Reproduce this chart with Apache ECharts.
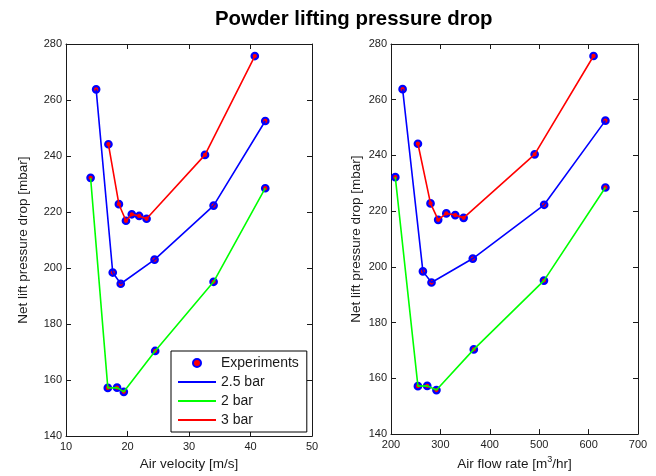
<!DOCTYPE html>
<html>
<head>
<meta charset="utf-8">
<script src="https://cdn.jsdelivr.net/npm/echarts@6/dist/echarts.min.js"></script>
<style>
	html, body { margin: 0; padding: 0; background: #fff; }
	#chart { width: 656px; height: 476px; }
</style>
</head>
<body>
<div id="chart"></div>
<script>
// values
var drop25 = [263.8, 198.4, 194.4, 203.0, 222.3, 252.5];
var drop2 = [232.2, 157.2, 157.3, 155.8, 170.4, 195.1, 228.5];
var drop3 = [244.2, 222.8, 216.9, 219.2, 218.6, 217.6, 240.4, 275.7];

// left plot: air velocity [m/s]
var velocity25 = [14.9, 17.6, 18.9, 24.4, 34.0, 42.4];
var velocity2 = [14.0, 16.8, 18.3, 19.4, 24.5, 34.0, 42.4];
var velocity3 = [16.9, 18.6, 19.75, 20.7, 21.9, 23.1, 32.6, 40.7];

// right plot: air flow rate [m3/hr]
var flow25 = [223.5, 264.6, 282, 365.6, 510, 634];
var flow2 = [208.7, 254.5, 273.3, 292, 367.6, 509.6, 634];
var flow3 = [254.5, 280, 295.5, 312, 330, 347, 490.8, 610];

var FONT = "'Liberation Sans', Arial, sans-serif";
var INK = "#1a1a1a";

function zip(xs, ys) {
	return xs.map(function (x, i) { return [x, ys[i]]; });
}

// 盒子坐标轴: 底/左带刻度标签, 顶/右只画刻度
function boxAxes(grid, min, max, interval, name, nameRich, yGap) {
	var tick = { show: true, inside: true, length: 5, lineStyle: { color: INK } };
	var line = { show: true, lineStyle: { color: INK, width: 1 } };
	var label = { color: "#222", fontSize: 11, fontFamily: FONT };
	return {
		x: [
			{
				gridIndex: grid, type: "value", position: "bottom",
				min: min, max: max, interval: interval,
				axisLine: line, axisTick: tick, splitLine: { show: false },
				axisLabel: Object.assign({ margin: 5 }, label),
				name: name, nameLocation: "middle", nameGap: 20,
				nameTextStyle: { color: INK, fontSize: 13.5, fontFamily: FONT, rich: nameRich },
			},
			{
				gridIndex: grid, type: "value", position: "top",
				min: min, max: max, interval: interval,
				axisLine: line, axisTick: tick, axisLabel: { show: false }, splitLine: { show: false },
			},
		],
		y: [
			{
				gridIndex: grid, type: "value", position: "left",
				min: 140, max: 280, interval: 20,
				axisLine: line, axisTick: tick, splitLine: { show: false },
				axisLabel: Object.assign({ margin: 4 }, label),
				name: "Net lift pressure drop [mbar]", nameLocation: "middle", nameGap: yGap,
				nameTextStyle: { color: INK, fontSize: 13.5, fontFamily: FONT },
			},
			{
				gridIndex: grid, type: "value", position: "right",
				min: 140, max: 280, interval: 20,
				axisLine: line, axisTick: tick, axisLabel: { show: false }, splitLine: { show: false },
			},
		],
	};
}

var leftAxes = boxAxes(0, 10, 50, 10, "Air velocity [m/s]", null, 36);
var rightAxes = boxAxes(1, 200, 700, 100, "{a|Air flow rate [m}{s|3}{a|/hr]}", {
	a: { color: INK, fontSize: 13.5, fontFamily: FONT },
	s: { color: INK, fontSize: 9, fontFamily: FONT, padding: [0, 0, 9, 0] },
}, 28);

function experiments(xi, yi, xs25, xs2, xs3) {
	return {
		name: "Experiments", type: "scatter",
		xAxisIndex: xi, yAxisIndex: yi,
		symbol: "circle", symbolSize: 6.5,
		itemStyle: { color: "#ff0000", borderColor: "#0000ff", borderWidth: 2.2, opacity: 1 },
		data: zip(xs25, drop25).concat(zip(xs2, drop2), zip(xs3, drop3)),
		z: 2,
	};
}

function curve(name, color, xi, yi, xs, ys) {
	return {
		name: name, type: "line",
		xAxisIndex: xi, yAxisIndex: yi,
		symbol: "none",
		lineStyle: { color: color, width: 1.6 },
		itemStyle: { color: color },
		data: zip(xs, ys),
		z: 3,
	};
}

// 图例里的线条不要圆点
function lineItem(name) {
	return { name: name, itemStyle: { opacity: 0 } };
}

var myChart = echarts.init(document.getElementById("chart"), null, { renderer: "canvas" });
var option = {
	animation: false,
	backgroundColor: "#fff",
	title: {
		text: "Powder lifting pressure drop",
		left: 210, top: 4,
		textStyle: { color: "#000", fontSize: 20.4, fontWeight: "bold", fontFamily: FONT },
	},
	legend: {
		orient: "vertical",
		left: 171, top: 351,
		padding: [5, 8, 5, 6],
		itemWidth: 38, itemHeight: 8, itemGap: 5,
		borderColor: "#000", borderWidth: 1, backgroundColor: "#fff",
		textStyle: { color: INK, fontSize: 14, fontFamily: FONT },
		data: ["Experiments", lineItem("2.5 bar"), lineItem("2 bar"), lineItem("3 bar")],
	},
	grid: [
		{ left: 66, top: 44, width: 246, height: 393 },
		{ left: 391, top: 44, width: 247, height: 393 },
	],
	xAxis: leftAxes.x.concat(rightAxes.x),
	yAxis: leftAxes.y.concat(rightAxes.y),
	series: [
		experiments(0, 0, velocity25, velocity2, velocity3),
		curve("2.5 bar", "#0000ff", 0, 0, velocity25, drop25),
		curve("2 bar", "#00ff00", 0, 0, velocity2, drop2),
		curve("3 bar", "#ff0000", 0, 0, velocity3, drop3),
		experiments(2, 2, flow25, flow2, flow3),
		curve("2.5 bar", "#0000ff", 2, 2, flow25, drop25),
		curve("2 bar", "#00ff00", 2, 2, flow2, drop2),
		curve("3 bar", "#ff0000", 2, 2, flow3, drop3),
	],
};
myChart.setOption(option);
</script>
</body>
</html>
